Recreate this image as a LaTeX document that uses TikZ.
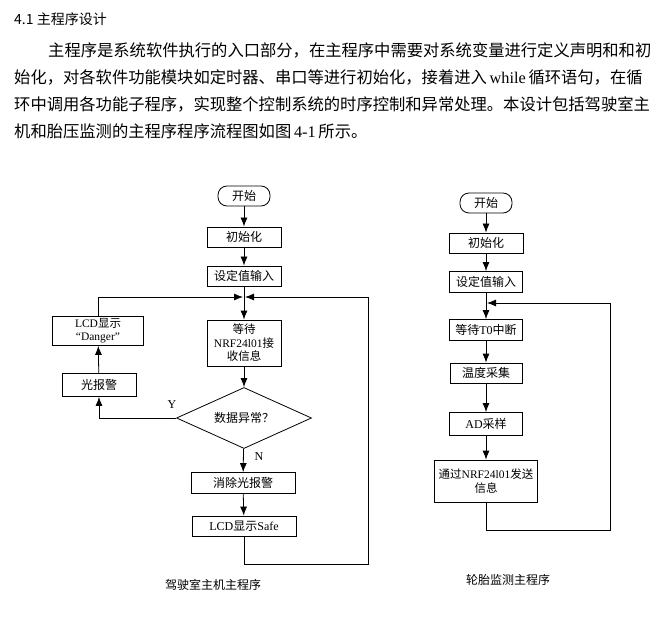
\documentclass[tikz,border=0pt]{standalone}
\usepackage{fontspec}
\setmainfont{Liberation Serif}
\newfontfamily\cjk{Noto Sans CJK SC}
\usetikzlibrary{shapes.geometric, positioning, arrows.meta}

\begin{document}
\begin{tikzpicture}[x=1pt, y=-1pt, font=\cjk\fontsize{12}{14}\selectfont]
% Setup the styles for the boxes
\tikzset{proc/.style={draw, line width=0.8pt, inner sep=1pt, align=center},
	term/.style={draw, rounded corners=9pt, line width=0.8pt,
		minimum width=52, minimum height=20},
	decide/.style={draw, diamond, aspect=2.2, line width=0.8pt,
		minimum width=135, minimum height=61, inner sep=0pt},
	flow/.style={-{Latex[length=9pt, width=7pt]}, line width=0.8pt},
	para/.style={anchor=west, inner sep=0pt, font=\cjk\fontsize{16.3}{18}\selectfont}}
\useasboundingbox (0,0) rectangle (661,620);

% Text above the charts
\node[anchor=west, inner sep=0pt, font=\cjk\fontsize{14}{16}\selectfont] (head) at (14,19) {4.1 主程序设计};
\node[para] (p1) at (48,50) {主程序是系统软件执行的入口部分，在主程序中需要对系统变量进行定义声明和和初};
\node[para] (p2) at (14,77) {始化，对各软件功能模块如定时器、串口等进行初始化，接着进入\,{\rmfamily while}\,循环语句，在循};
\node[para] (p3) at (14,104) {环中调用各功能子程序，实现整个控制系统的时序控制和异常处理。本设计包括驾驶室主};
\node[para] (p4) at (14,131) {机和胎压监测的主程序程序流程图如图\,{\rmfamily 4-1}\,所示。};

% Left chart
\node[term] (s1) at (244,196) {开始};
\node[proc, minimum width=74, minimum height=20] (init1) at (244,237) {初始化};
\node[proc, minimum width=74, minimum height=20] (set1) at (244,276) {设定值输入};
\coordinate (m1) at (244,297);
\node[proc, minimum width=74, minimum height=46, font=\cjk\fontsize{11.5}{13.5}\selectfont] (wait1) at (244,343) {等待\\{\rmfamily NRF24l01}接\\收信息};
\node[decide] (dec) at (244,418) {数据异常？};
\node[proc, minimum width=104, minimum height=21] (clr) at (243,483) {消除光报警};
\node[proc, minimum width=104, minimum height=20] (safe) at (244,526) {{\rmfamily LCD}显示{\rmfamily Safe}};
\node[proc, minimum width=91, minimum height=29, font=\cjk\fontsize{11.5}{13}\selectfont] (dang) at (98,331) {{\rmfamily LCD}显示\\{\rmfamily “Danger”}};
\node[proc, minimum width=74, minimum height=23] (alarm) at (99,385) {光报警};
\node[inner sep=0pt] (yl) at (172,405) {\rmfamily Y};
\node[inner sep=0pt] (nl) at (259,457) {\rmfamily N};
\node[inner sep=0pt] (cap1) at (213,585) {驾驶室主机主程序};

\draw[flow] (s1) -- (init1);
\draw[flow] (init1) -- (set1);
\draw[flow] (set1) -- (wait1);
\draw[flow] (wait1) -- (dec);
\draw[flow] (dec) -- (clr);
\draw[flow] (clr) -- (safe);
\draw[flow] (dec.west) -| (alarm);
\draw[flow] (alarm) -- (dang);
\draw[flow] (dang.north) |- ([xshift=-1]m1);
\draw[flow] (safe.south) |- (368,564) |- ([xshift=1]m1);

% Right chart
\node[term] (s2) at (486,203) {开始};
\node[proc, minimum width=74, minimum height=20] (init2) at (486,243) {初始化};
\node[proc, minimum width=73, minimum height=21] (set2) at (486,282) {设定值输入};
\coordinate (m2) at (486,303);
\node[proc, minimum width=73, minimum height=21] (wait2) at (486,330) {等待{\rmfamily T0}中断};
\node[proc, minimum width=72, minimum height=20] (temp) at (486,373) {温度采集};
\node[proc, minimum width=73, minimum height=23] (ad) at (486,424) {{\rmfamily AD}采样};
\node[proc, minimum width=103, minimum height=42, font=\cjk\fontsize{11.5}{14}\selectfont] (send) at (486,481) {通过{\rmfamily NRF24l01}发送\\信息};
\node[inner sep=0pt] (cap2) at (508,580) {轮胎监测主程序};

\draw[flow] (s2) -- (init2);
\draw[flow] (init2) -- (set2);
\draw[flow] (set2) -- (wait2);
\draw[flow] (wait2) -- (temp);
\draw[flow] (temp) -- (ad);
\draw[flow] (ad) -- (send);
\draw[flow] (send.south) |- (610,530) |- ([xshift=1]m2);
\end{tikzpicture}
\end{document}
